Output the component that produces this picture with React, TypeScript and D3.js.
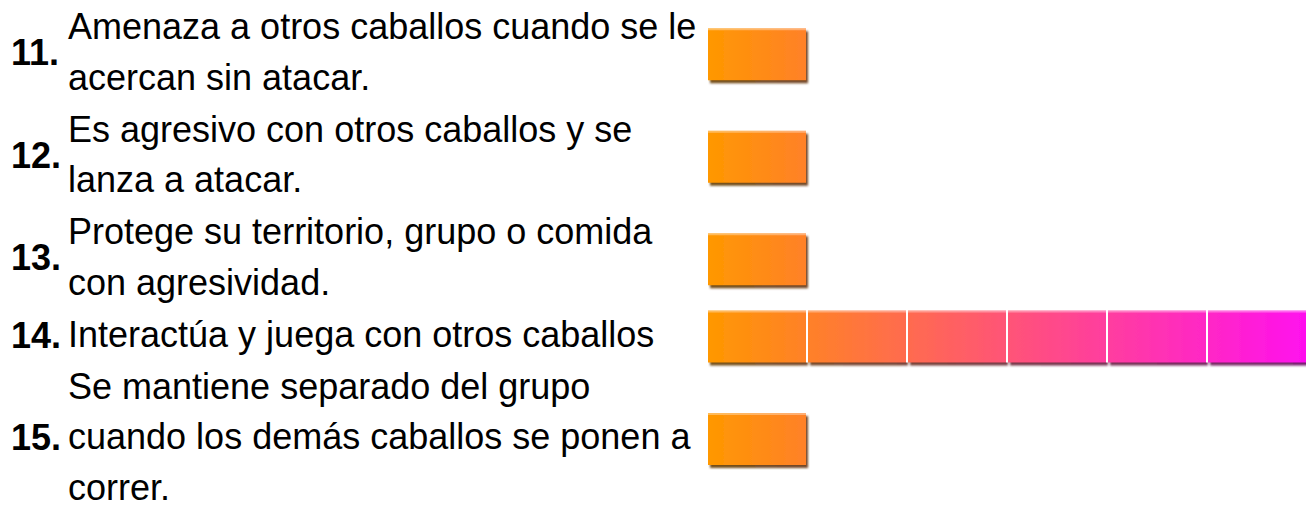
import React from "react";
import * as d3 from "d3";

const numbers = ["11.", "12.", "13.", "14.", "15."];
const statements: string[][] = [
  ["Amenaza a otros caballos cuando se le", "acercan sin atacar."],
  ["Es agresivo con otros caballos y se", "lanza a atacar."],
  ["Protege su territorio, grupo o comida", "con agresividad."],
  ["Interactúa y juega con otros caballos"],
  ["Se mantiene separado del grupo", "cuando los demás caballos se ponen a", "correr."],
];
const values = [1, 1, 1, 6, 1];
const maxValue = 6;

const W = 1306;
const H = 508;
const FONT = "'Liberation Sans', Arial, Helvetica, sans-serif";
const lineH = 50.5;
const rowGap = 1.5;
const firstBaseline = 39;
const barH = 52;

const colorStart = "#ff9800";
const colorEnd = "#ff10ee";

export default function App() {
  const x = d3.scaleLinear().domain([0, maxValue]).range([708, 1308]);
  const interp = d3.interpolateRgb(colorStart, colorEnd);
  const pitch = x(1) - x(0);
  const cellW = pitch - 2;

  let cursor = firstBaseline;
  const rows = statements.map((lines, i) => {
    const baselines = lines.map((_, j) => cursor + j * lineH);
    cursor += lines.length * lineH + rowGap;
    const first = baselines[0];
    const last = baselines[baselines.length - 1];
    return {
      num: numbers[i],
      lines,
      baselines,
      numBaseline: (first + last) / 2 + 1,
      center: (first + last) / 2 - 10,
      value: values[i],
    };
  });

  const cells = d3.range(maxValue);

  return (
    <svg
      width={W}
      height={H}
      style={{ position: "absolute", left: 0, top: 0, background: "#fff" }}
    >
      <defs>
        {cells.map((c) => {
          const c0 = interp(c / maxValue);
          const c1 = interp((c + 1) / maxValue);
          return (
            <React.Fragment key={c}>
              <linearGradient id={`g${c}`} x1="0" x2="1" y1="0" y2="0">
                <stop offset="0%" stopColor={c0} />
                <stop offset="100%" stopColor={c1} />
              </linearGradient>
              <linearGradient id={`d${c}`} x1="0" x2="1" y1="0" y2="0">
                <stop offset="0%" stopColor={d3.color(c0)!.darker(2.6).formatHex()} />
                <stop offset="100%" stopColor={d3.color(c1)!.darker(2.6).formatHex()} />
              </linearGradient>
            </React.Fragment>
          );
        })}
        <filter id="soft" x="-5%" y="-20%" width="110%" height="140%">
          <feGaussianBlur stdDeviation="0.6" />
        </filter>
        <filter id="shadowBlur" x="-5%" y="-20%" width="110%" height="140%">
          <feGaussianBlur stdDeviation="0.8" />
        </filter>
      </defs>
      {rows.map((r, i) => {
        const top = r.center - barH / 2;
        return (
          <g key={i}>
            <text
              x={11}
              y={r.numBaseline}
              fontFamily={FONT}
              fontWeight="bold"
              fontSize={36}
              fill="#000"
            >
              {r.num}
            </text>
            {r.lines.map((ln, j) => (
              <text
                key={j}
                x={68}
                y={r.baselines[j]}
                fontFamily={FONT}
                fontSize={36}
                fill="#000"
              >
                {ln}
              </text>
            ))}
            <g filter="url(#shadowBlur)">
              {d3.range(r.value).map((c) => (
                <rect
                  key={c}
                  x={x(c) + 2}
                  y={top + 3}
                  width={cellW}
                  height={barH}
                  fill={`url(#d${c})`}
                  opacity={0.9}
                />
              ))}
            </g>
            <g filter="url(#soft)">
              {d3.range(r.value).map((c) => (
                <g key={c}>
                  <rect
                    x={x(c)}
                    y={top}
                    width={cellW}
                    height={barH}
                    fill={`url(#g${c})`}
                  />
                  <rect
                    x={x(c)}
                    y={top}
                    width={cellW}
                    height={2}
                    fill="#fff"
                    opacity={0.35}
                  />
                </g>
              ))}
              {d3.range(1, r.value).map((c) => (
                <rect
                  key={`sep${c}`}
                  x={x(c) - 2}
                  y={top - 1}
                  width={2}
                  height={barH + 1}
                  fill="#fff"
                />
              ))}
            </g>
          </g>
        );
      })}
    </svg>
  );
}
